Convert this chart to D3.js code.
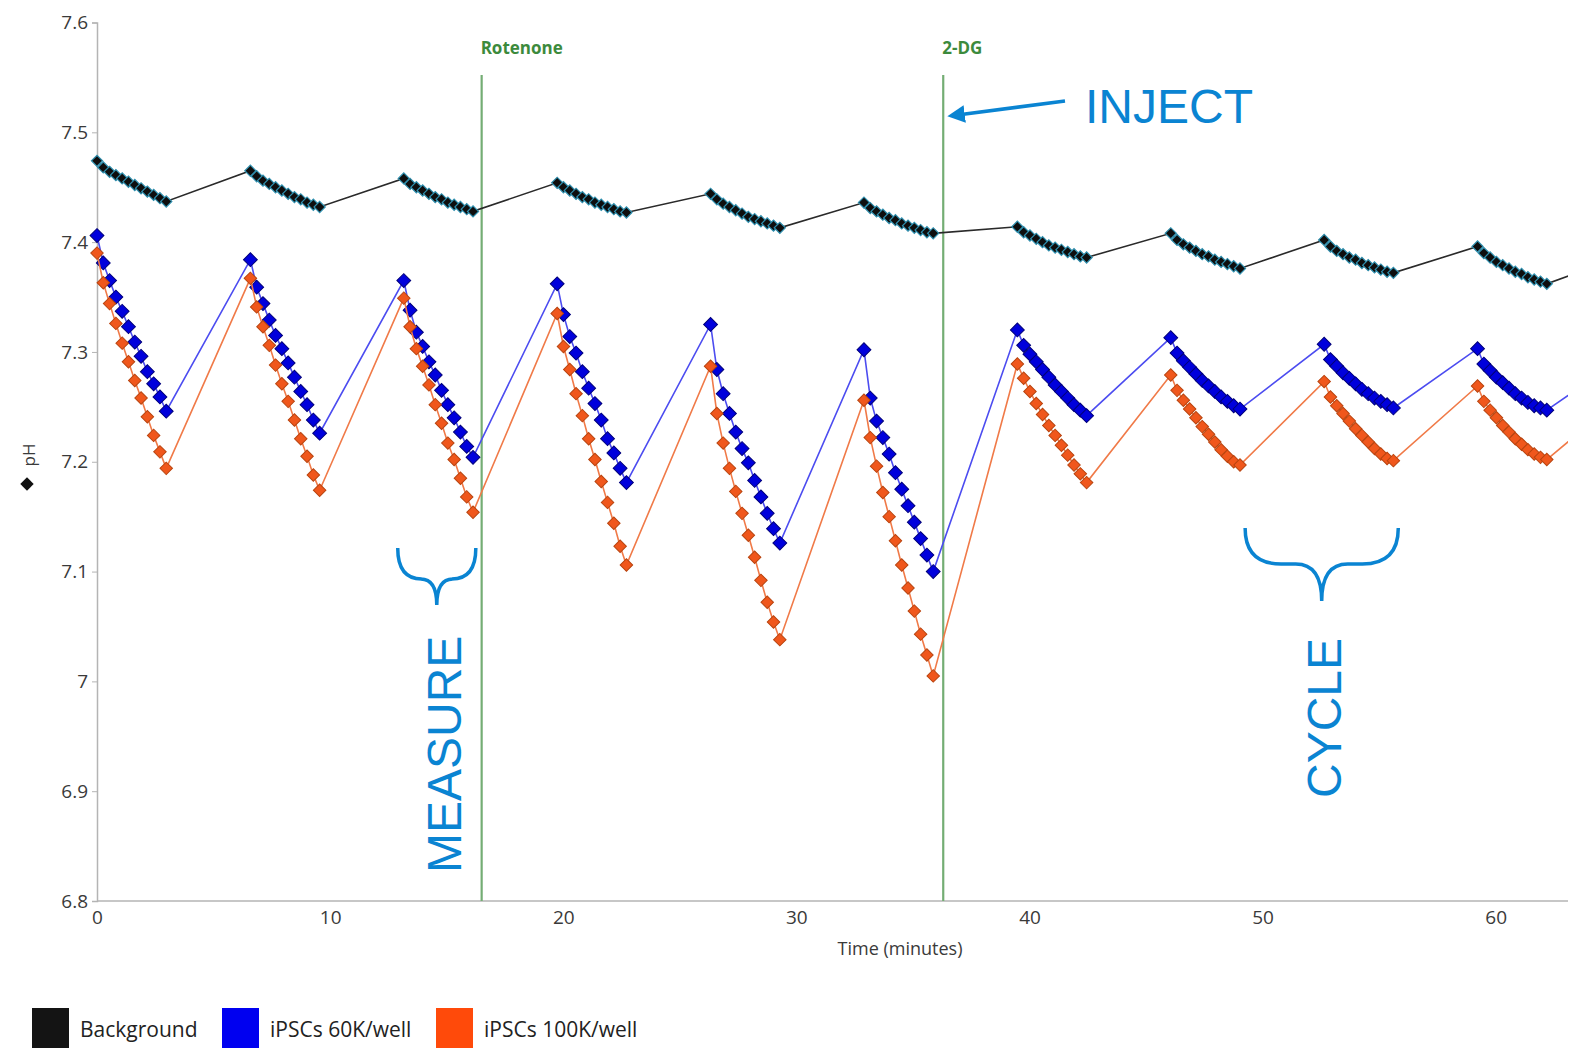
<!DOCTYPE html>
<html>
<head>
<meta charset="utf-8">
<script src="https://cdn.jsdelivr.net/npm/d3@7"></script>
<style>
  body { margin: 0; background: #fff; }
  svg { display: block; }
</style>
</head>
<body>
<svg id="chart" width="1585" height="1055"></svg>
<script>
// start time (min) of each measurement, plus the start of the one after the last
const cycleStart = [0, 6.58, 13.16, 19.74, 26.32, 32.9, 39.48, 46.06, 52.64, 59.22, 65.8];
// sample offsets inside one measurement (min)
const sampleOffsets = [0, 0.27, 0.54, 0.81, 1.08, 1.35, 1.62, 1.89, 2.16, 2.43, 2.7, 2.97];

const backgroundPH = [
  [7.474, 7.468, 7.464, 7.461, 7.458, 7.455, 7.452, 7.449, 7.446, 7.443, 7.440, 7.437],
  [7.465, 7.460, 7.456, 7.453, 7.450, 7.447, 7.444, 7.441, 7.439, 7.436, 7.434, 7.432],
  [7.458, 7.453, 7.450, 7.447, 7.444, 7.441, 7.439, 7.436, 7.434, 7.432, 7.430, 7.428],
  [7.454, 7.450, 7.447, 7.444, 7.441, 7.439, 7.436, 7.434, 7.432, 7.430, 7.428, 7.427],
  [7.444, 7.439, 7.435, 7.432, 7.429, 7.426, 7.423, 7.421, 7.419, 7.417, 7.415, 7.413],
  [7.436, 7.431, 7.428, 7.425, 7.422, 7.420, 7.417, 7.415, 7.413, 7.411, 7.409, 7.408],
  [7.414, 7.409, 7.406, 7.403, 7.400, 7.397, 7.395, 7.393, 7.391, 7.389, 7.387, 7.386],
  [7.408, 7.402, 7.398, 7.395, 7.392, 7.389, 7.387, 7.384, 7.382, 7.380, 7.378, 7.376],
  [7.402, 7.396, 7.392, 7.389, 7.386, 7.384, 7.381, 7.379, 7.377, 7.375, 7.373, 7.372],
  [7.396, 7.390, 7.386, 7.382, 7.379, 7.376, 7.373, 7.371, 7.368, 7.366, 7.364, 7.362],
  [7.390]
];

const ipsc60PH = [
  [7.406, 7.381, 7.365, 7.350, 7.337, 7.323, 7.309, 7.296, 7.282, 7.271, 7.259, 7.246],
  [7.384, 7.359, 7.344, 7.329, 7.315, 7.303, 7.290, 7.277, 7.264, 7.252, 7.238, 7.226],
  [7.365, 7.338, 7.318, 7.305, 7.291, 7.279, 7.265, 7.252, 7.240, 7.227, 7.214, 7.204],
  [7.362, 7.334, 7.314, 7.299, 7.282, 7.267, 7.253, 7.238, 7.221, 7.208, 7.194, 7.181],
  [7.325, 7.284, 7.262, 7.244, 7.227, 7.212, 7.199, 7.183, 7.168, 7.153, 7.139, 7.126],
  [7.302, 7.258, 7.237, 7.222, 7.207, 7.190, 7.175, 7.160, 7.145, 7.130, 7.115, 7.100],
  [7.320, 7.306, 7.298, 7.291, 7.284, 7.277, 7.270, 7.264, 7.258, 7.252, 7.247, 7.242],
  [7.313, 7.299, 7.292, 7.286, 7.280, 7.274, 7.269, 7.264, 7.259, 7.255, 7.251, 7.248],
  [7.307, 7.293, 7.287, 7.281, 7.276, 7.271, 7.266, 7.262, 7.258, 7.255, 7.252, 7.249],
  [7.303, 7.289, 7.283, 7.277, 7.272, 7.267, 7.262, 7.258, 7.254, 7.251, 7.249, 7.247],
  [7.300]
];

const ipsc100PH = [
  [7.390, 7.363, 7.344, 7.326, 7.308, 7.291, 7.274, 7.258, 7.241, 7.224, 7.209, 7.194],
  [7.367, 7.341, 7.323, 7.306, 7.288, 7.271, 7.255, 7.238, 7.221, 7.205, 7.188, 7.174],
  [7.349, 7.323, 7.303, 7.287, 7.270, 7.252, 7.235, 7.217, 7.202, 7.185, 7.168, 7.154],
  [7.335, 7.305, 7.284, 7.262, 7.242, 7.221, 7.202, 7.182, 7.163, 7.144, 7.123, 7.106],
  [7.287, 7.244, 7.217, 7.194, 7.173, 7.153, 7.133, 7.113, 7.092, 7.072, 7.054, 7.038],
  [7.256, 7.222, 7.196, 7.172, 7.150, 7.128, 7.106, 7.085, 7.064, 7.043, 7.024, 7.005],
  [7.289, 7.276, 7.264, 7.253, 7.243, 7.233, 7.224, 7.215, 7.206, 7.197, 7.189, 7.181],
  [7.279, 7.265, 7.256, 7.248, 7.240, 7.232, 7.225, 7.218, 7.211, 7.205, 7.200, 7.197],
  [7.273, 7.259, 7.251, 7.244, 7.237, 7.230, 7.224, 7.218, 7.212, 7.207, 7.203, 7.201],
  [7.269, 7.255, 7.247, 7.240, 7.233, 7.227, 7.221, 7.216, 7.211, 7.207, 7.204, 7.202],
  [7.266]
];

const seriesNames = ["Background", "iPSCs 60K/well", "iPSCs 100K/well"];
const injectTimes = [16.5, 36.3];
const injectNames = ["Rotenone", "2-DG"];
const xTicks = [0, 10, 20, 30, 40, 50, 60];
const yTicks = [6.8, 6.9, 7.0, 7.1, 7.2, 7.3, 7.4, 7.5, 7.6];
const yTickLabels = ["6.8", "6.9", "7", "7.1", "7.2", "7.3", "7.4", "7.5", "7.6"];

const svg = d3.select("#chart");
const font = "'Open Sans', 'DejaVu Sans', sans-serif";
const annoColor = "#0a84d2";

const x = d3.scaleLinear().domain([0, 63.1]).range([97, 1568]);
const y = d3.scaleLinear().domain([6.8, 7.6]).range([901, 22.5]);

function toPoints(cycles) {
  const pts = [];
  cycles.forEach((vals, c) => {
    vals.forEach((v, i) => pts.push({ t: cycleStart[c] + sampleOffsets[i], ph: v }));
  });
  return pts;
}

const series = [
  { name: seriesNames[0], pts: toPoints(backgroundPH), line: "#2a2a2a", fill: "#0e0e0e", stroke: "#2f8fae", size: 62, sw: 1.2 },
  { name: seriesNames[1], pts: toPoints(ipsc60PH), line: "#4c4cf0", fill: "#0000dc", stroke: "#00007a", size: 96, sw: 1 },
  { name: seriesNames[2], pts: toPoints(ipsc100PH), line: "#f07a48", fill: "#f0571c", stroke: "#b8440f", size: 78, sw: 1 }
];
const legendColors = ["#141414", "#0000f0", "#ff4a0a"];

svg.append("defs").append("clipPath").attr("id", "plotClip")
  .append("rect").attr("x", 80).attr("y", 0).attr("width", 1568 - 80).attr("height", 910);

// axes
const yAxis = svg.append("g")
  .attr("transform", `translate(${x(0)},0)`)
  .call(d3.axisLeft(y).tickValues(yTicks).tickSize(5).tickPadding(4)
    .tickFormat((d, i) => yTickLabels[i]));
const xAxis = svg.append("g")
  .attr("transform", `translate(0,${y(6.8)})`)
  .call(d3.axisBottom(x).tickValues(xTicks).tickSize(0).tickPadding(10));
[xAxis, yAxis].forEach(g => {
  g.select(".domain").attr("stroke", "#b4b4b4").attr("stroke-width", 1.5);
  g.selectAll(".tick line").attr("stroke", "#b4b4b4");
  g.selectAll("text").attr("fill", "#3a3a3a").style("font-family", font).style("font-size", "19px");
});
xAxis.select(".domain").attr("d", `M${x(0)},0H1568`);

svg.append("text")
  .attr("x", 900).attr("y", 955)
  .attr("text-anchor", "middle")
  .style("font-family", font).style("font-size", "18px").attr("fill", "#3a3a3a")
  .text("Time (minutes)");

svg.append("text")
  .attr("transform", "translate(35,455) rotate(-90)")
  .attr("text-anchor", "middle")
  .style("font-family", font).style("font-size", "17px").attr("fill", "#3a3a3a")
  .text("pH");
svg.append("path")
  .attr("d", d3.symbol(d3.symbolSquare, 90)())
  .attr("transform", "translate(27,484) rotate(45)")
  .attr("fill", "#111");

// injection lines
injectTimes.forEach((t, i) => {
  svg.append("line")
    .attr("x1", x(t)).attr("x2", x(t))
    .attr("y1", 75).attr("y2", y(6.8))
    .attr("stroke", "#74ad74").attr("stroke-width", 2.2);
  svg.append("text")
    .attr("x", x(t) - 1).attr("y", 54)
    .style("font-family", font).style("font-size", "17px").style("font-weight", "bold")
    .attr("fill", "#3c8a3c")
    .text(injectNames[i]);
});

// series
const plot = svg.append("g").attr("clip-path", "url(#plotClip)");
const line = d3.line().x(d => x(d.t)).y(d => y(d.ph));
series.forEach(s => {
  plot.append("path")
    .datum(s.pts)
    .attr("fill", "none")
    .attr("stroke", s.line)
    .attr("stroke-width", 1.6)
    .attr("d", line);
  plot.append("g").selectAll("path")
    .data(s.pts)
    .join("path")
    .attr("d", d3.symbol(d3.symbolSquare, s.size)())
    .attr("transform", d => `translate(${x(d.t)},${y(d.ph)}) rotate(45)`)
    .attr("fill", s.fill)
    .attr("stroke", s.stroke)
    .attr("stroke-width", s.sw);
});

// legend
const legendX = [32, 222, 436];
seriesNames.forEach((name, i) => {
  svg.append("rect")
    .attr("x", legendX[i]).attr("y", 1008)
    .attr("width", 37).attr("height", 40)
    .attr("fill", legendColors[i]);
  svg.append("text")
    .attr("x", legendX[i] + 48).attr("y", 1037)
    .style("font-family", font).style("font-size", "21px").attr("fill", "#222")
    .text(name);
});

// annotations
function brace(x0, x1, yTop, yMid, yTip, r, r2) {
  const m = (x0 + x1) / 2;
  return `M${x0},${yTop} Q${x0},${yMid} ${x0 + r},${yMid} L${m - r2},${yMid} Q${m},${yMid} ${m},${yTip}` +
    ` M${m},${yTip} Q${m},${yMid} ${m + r2},${yMid} L${x1 - r},${yMid} Q${x1},${yMid} ${x1},${yTop}`;
}
const anno = svg.append("g").attr("fill", "none").attr("stroke", annoColor)
  .attr("stroke-width", 3.5).attr("stroke-linecap", "butt");
anno.append("path").attr("d", brace(x(12.9), x(16.25), 548, 579, 605, 24, 16));
anno.append("path").attr("d", brace(x(49.25), x(55.82), 528, 564, 601, 36, 26));

svg.append("defs").append("marker")
  .attr("id", "arrowHead").attr("viewBox", "0 0 10 10")
  .attr("refX", 2).attr("refY", 5)
  .attr("markerWidth", 5).attr("markerHeight", 5)
  .attr("orient", "auto-start-reverse")
  .append("path").attr("d", "M0,0 L10,5 L0,10 Z").attr("fill", annoColor);
svg.append("line")
  .attr("x1", 1065).attr("y1", 101)
  .attr("x2", x(36.3) + 18).attr("y2", 114.5)
  .attr("stroke", annoColor).attr("stroke-width", 3.5)
  .attr("marker-end", "url(#arrowHead)");

const annoFont = "'Liberation Sans', Arial, sans-serif";
svg.append("text")
  .attr("x", 1085).attr("y", 123)
  .style("font-family", annoFont).style("font-size", "48px").attr("fill", annoColor)
  .text("INJECT");
svg.append("text")
  .attr("transform", "translate(461,873) rotate(-90)")
  .style("font-family", annoFont).style("font-size", "48px").attr("fill", annoColor)
  .text("MEASURE");
svg.append("text")
  .attr("transform", "translate(1341,798) rotate(-90)")
  .style("font-family", annoFont).style("font-size", "48px").attr("fill", annoColor)
  .text("CYCLE");
</script>
</body>
</html>
